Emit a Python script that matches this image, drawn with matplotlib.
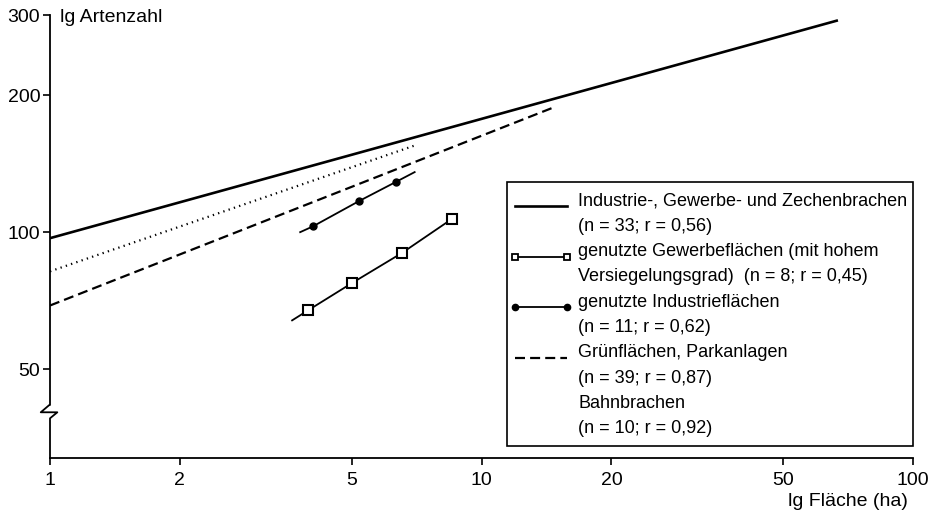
import matplotlib
matplotlib.use("Agg")
import matplotlib.pyplot as plt
from matplotlib.lines import Line2D
from matplotlib.patches import Rectangle

plt.rcParams['font.family'] = ['Liberation Sans', 'DejaVu Sans']

# ---- data (x = Fläche in ha, y = Artenzahl) ----
brachen_x = [1.0, 67.0]            # Industrie-, Gewerbe- und Zechenbrachen
brachen_y = [97, 292]
gruen_x = [1.0, 14.7]              # Grünflächen, Parkanlagen
gruen_y = [69, 188]
bahn_x = [1.0, 7.0]                # Bahnbrachen
bahn_y = [82, 155]
industrie_x = [3.8, 4.07, 5.2, 6.34, 7.0]     # genutzte Industrieflächen
industrie_y = [100, 103, 117, 129, 135.5]
gewerbe_x = [3.64, 3.96, 5.01, 6.54, 8.55]    # genutzte Gewerbeflächen
gewerbe_y = [64, 67.3, 77.3, 90, 107]

x_ticks = [1, 2, 5, 10, 20, 50, 100]
y_ticks = [50, 100, 200, 300]

legend_labels = [
    ("Industrie-, Gewerbe- und Zechenbrachen", "(n = 33; r = 0,56)"),
    ("genutzte Gewerbeflächen (mit hohem", "Versiegelungsgrad)  (n = 8; r = 0,45)"),
    ("genutzte Industrieflächen", "(n = 11; r = 0,62)"),
    ("Grünflächen, Parkanlagen", "(n = 39; r = 0,87)"),
    ("Bahnbrachen", "(n = 10; r = 0,92)"),
]

W, H = 934, 513
fig = plt.figure(figsize=(W / 100, H / 100), dpi=100)
ax = fig.add_axes([50 / W, 1 - 458 / H, 863 / W, 443 / H])


def px(x, y):
    # pixel position (top-left origin) -> figure fraction
    return x / W, 1 - y / H


ax.set_xscale('log')
ax.set_yscale('log')
ax.set_xlim(1, 100)
ax.set_ylim(31.9, 300)

ax.plot(brachen_x, brachen_y, color='black', lw=1.9, solid_capstyle='butt')
ax.plot(gruen_x, gruen_y, color='black', lw=1.6, dashes=(4.5, 2.3))
ax.plot(bahn_x, bahn_y, color='black', lw=1.6, dashes=(0.6, 1.9))
ax.plot(industrie_x, industrie_y, color='black', lw=1.3,
        marker='o', ms=5, markevery=[1, 2, 3])
ax.plot(gewerbe_x, gewerbe_y, color='black', lw=1.3,
        marker='s', ms=6.5, mfc='white', mec='black', mew=1.5,
        markevery=[1, 2, 3, 4])

# axes / ticks
for s in ['top', 'right', 'left']:
    ax.spines[s].set_visible(False)
ax.spines['bottom'].set_linewidth(1.3)
ax.minorticks_off()
ax.set_xticks(x_ticks)
ax.set_xticklabels([str(v) for v in x_ticks])
ax.set_yticks(y_ticks)
ax.set_yticklabels([str(v) for v in y_ticks])
ax.tick_params(axis='both', which='major', labelsize=14, width=1.2,
               length=5, direction='out')
ax.tick_params(axis='x', pad=5)
ax.tick_params(axis='y', pad=2)

# left axis line with break symbol
ax.plot([0, 0, -0.0008, -0.0107, 0.0085, 0, 0],
        [1, 0.1196, 0.1196, 0.1032, 0.1032, 0.0896, 0],
        transform=ax.transAxes, color='black', lw=1.3, clip_on=False)

fig.text(*px(60, 18), "lg Artenzahl", fontsize=14, ha='left', va='center')
fig.text(*px(908, 502), "lg Fläche (ha)", fontsize=14, ha='right', va='center')

# legend box drawn by hand (samples sit on the first line of each label)
x0, y0 = px(507, 182)
x1, y1 = px(913, 446)
fig.patches.append(Rectangle((x0, y1), x1 - x0, y0 - y1, transform=fig.transFigure,
                             fill=False, edgecolor='black', lw=1.2))
samples = [
    dict(color='black', lw=1.9),
    dict(color='black', lw=1.3, marker='s', ms=5, mfc='white', mec='black', mew=1.3),
    dict(color='black', lw=1.3, marker='o', ms=4.5),
    dict(color='black', lw=1.6, dashes=(4.5, 2.3)),
    None,
]
for i, ((l1, l2), st) in enumerate(zip(legend_labels, samples)):
    yc = 201 + 2 * i * 25.3
    fig.text(*px(578, yc), l1, fontsize=13, ha='left', va='center')
    fig.text(*px(578, yc + 25.3), l2, fontsize=13, ha='left', va='center')
    if st is not None:
        (xa, ya), (xb, _) = px(515, yc + 5), px(567, yc + 5)
        fig.lines.append(Line2D([xa, xb], [ya, ya], transform=fig.transFigure, **st))

fig.savefig("out.png", dpi=100)
